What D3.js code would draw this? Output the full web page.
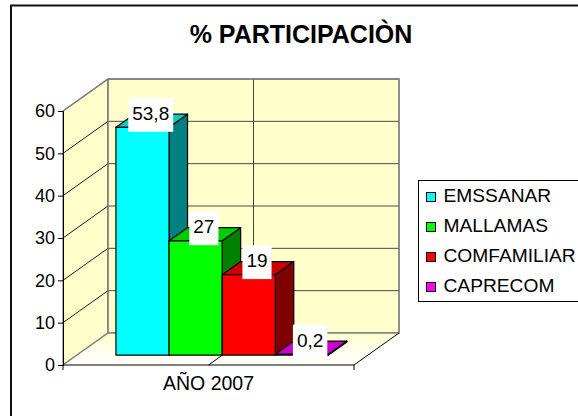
<!DOCTYPE html>
<html>
<head>
<meta charset="utf-8">
<script src="https://cdn.jsdelivr.net/npm/d3@7"></script>
<style>
  body { margin: 0; background: #fff; overflow: hidden; }
  text { font-family: "Liberation Sans", Arial, sans-serif; fill: #000; }
</style>
</head>
<body>
<script>
const categories = ["AÑO 2007"];
const seriesNames = ["EMSSANAR", "MALLAMAS", "COMFAMILIAR", "CAPRECOM"];
const seriesValues = [53.8, 27, 19, 0.2];
const valueLabels = ["53,8", "27", "19", "0,2"];
const yTicks = [0, 10, 20, 30, 40, 50, 60];
const frontColors = ["#00ffff", "#00ff00", "#ff0000", "#ff00ff"];
const topColors = ["#00cccc", "#00cc00", "#cc0000", "#cc00cc"];
const sideColors = ["#008080", "#008000", "#800000", "#800080"];

const width = 578, height = 416;

const svg = d3.select("body").append("svg")
  .attr("width", width)
  .attr("height", height)
  .style("display", "block");

// outer frame, only top and left are inside the picture
svg.append("path")
  .attr("d", d3.line()([[11, height], [11, 5.5], [width, 5.5]]))
  .attr("fill", "none").attr("stroke", "#111").attr("stroke-width", 2);

svg.append("text")
  .attr("x", 301).attr("y", 43)
  .attr("text-anchor", "middle")
  .attr("font-size", 25)
  .attr("font-weight", "bold")
  .text("% PARTICIPACIÒN");

// scales: front plane of the box, depth goes up and to the right
const y = d3.scaleLinear().domain([0, 60]).range([365, 111]);
const x = d3.scaleBand().domain(categories).range([63, 354]);
const inner = d3.scaleBand().domain(seriesNames)
  .range([x(categories[0]) + 39, x(categories[0]) + x.bandwidth() - 39.5]);
const depthX = d3.scaleLinear().domain([0, 1]).range([0, 45]);
const depthY = d3.scaleLinear().domain([0, 1]).range([0, -32]);

// project a point (px on the x axis, value, depth 0..1)
const pt = (px, v, t) => [px + depthX(t), y(v) + depthY(t)];
const poly = pts => d3.line()(pts) + "Z";

const x0 = x.range()[0], x1 = x.range()[1];
const yMax = y.domain()[1];

// walls and floor
svg.append("path")
  .attr("d", poly([pt(x0, 0, 0), pt(x0, yMax, 0), pt(x0, yMax, 1), pt(x0, 0, 1)]))
  .attr("fill", "#ffffcc").attr("stroke", "#808080").attr("stroke-width", 1.3);
svg.append("path")
  .attr("d", poly([pt(x0, 0, 1), pt(x0, yMax, 1), pt(x1, yMax, 1), pt(x1, 0, 1)]))
  .attr("fill", "#ffffcc").attr("stroke", "#808080").attr("stroke-width", 1.3);

const floorGrad = svg.append("defs").append("linearGradient")
  .attr("id", "floorGrad").attr("x1", 0).attr("y1", 0).attr("x2", 0).attr("y2", 1);
floorGrad.append("stop").attr("offset", "0%").attr("stop-color", "#ffffcc");
floorGrad.append("stop").attr("offset", "60%").attr("stop-color", "#fffff0");
floorGrad.append("stop").attr("offset", "100%").attr("stop-color", "#fffff8");
svg.append("path")
  .attr("d", poly([pt(x0, 0, 0), pt(x0, 0, 1), pt(x1, 0, 1), pt(x1, 0, 0)]))
  .attr("fill", "url(#floorGrad)").attr("stroke", "none");

// gridlines, left wall then back wall
const grid = svg.append("g").attr("fill", "none");
yTicks.slice(1).forEach(function(t) {
  if (t < yMax) {
    grid.append("path").attr("d", d3.line()([pt(x0, t, 0), pt(x0, t, 1)]))
      .attr("stroke", "#000").attr("stroke-width", 0.9);
    grid.append("path").attr("d", d3.line()([pt(x0, t, 1), pt(x1, t, 1)]))
      .attr("stroke", "#333").attr("stroke-width", 0.9);
  }
});
const xm = (x0 + x1) / 2;
grid.append("path").attr("d", d3.line()([pt(xm, 0, 1), pt(xm, yMax, 1)]))
  .attr("stroke", "#333").attr("stroke-width", 0.9);

// wall edges over the grid
svg.append("path")
  .attr("d", d3.line()([pt(x0, 0, 0), pt(x0, 0, 1), pt(x1, 0, 1), pt(x1, yMax, 1), pt(x0, yMax, 1), pt(x0, yMax, 0)]))
  .attr("fill", "none").attr("stroke", "#808080").attr("stroke-width", 1.3);
svg.append("path")
  .attr("d", d3.line()([pt(x0, 0, 1), pt(x0, yMax, 1)]))
  .attr("fill", "none").attr("stroke", "#808080").attr("stroke-width", 1.3);

// floor lines
svg.append("path")
  .attr("d", d3.line()([pt(x0, 0, 0), pt(x1, 0, 0), pt(x1, 0, 1)]))
  .attr("fill", "none").attr("stroke", "#000").attr("stroke-width", 1);
svg.append("path")
  .attr("d", d3.line()([pt(xm, 0, 0), pt(xm, 0, 1)]))
  .attr("fill", "none").attr("stroke", "#000").attr("stroke-width", 1);

// axes
const yAxis = d3.axisLeft(y).tickValues(yTicks).tickSize(5).tickPadding(3);
const gy = svg.append("g").attr("transform", "translate(" + x0 + ",0)").call(yAxis);
gy.select(".domain").attr("stroke", "#000");
gy.selectAll("text").attr("font-size", 18).style("font-family", '"Liberation Sans", Arial, sans-serif');

const gx = svg.append("g").attr("transform", "translate(0,365)");
gx.selectAll("line").data([x0, x1]).join("line")
  .attr("x1", d => d).attr("x2", d => d)
  .attr("y1", 0).attr("y2", 5).attr("stroke", "#000");
gx.append("text")
  .attr("x", x(categories[0]) + x.bandwidth() / 2)
  .attr("y", 25)
  .attr("text-anchor", "middle")
  .attr("font-size", 19.5)
  .text(categories[0]);

// bars
const t0 = 0.31, t1 = 0.72;
const bars = svg.append("g").attr("stroke", "#000").attr("stroke-width", 1.2).attr("stroke-linejoin", "round");
seriesNames.forEach(function(name, i) {
  const a = inner(name), b = a + inner.bandwidth(), v = seriesValues[i];
  bars.append("path").attr("fill", sideColors[i])
    .attr("d", poly([pt(b, 0, t0), pt(b, v, t0), pt(b, v, t1), pt(b, 0, t1)]));
  bars.append("path").attr("fill", topColors[i])
    .attr("d", poly([pt(a, v, t0), pt(a, v, t1), pt(b, v, t1), pt(b, v, t0)]));
  bars.append("path").attr("fill", frontColors[i])
    .attr("d", poly([pt(a, 0, t0), pt(a, v, t0), pt(b, v, t0), pt(b, 0, t0)]));
});

// value labels on white boxes
seriesNames.forEach(function(name, i) {
  const a = inner(name), b = a + inner.bandwidth(), v = seriesValues[i];
  const p = pt((a + b) / 2, v, (t0 + t1) / 2);
  const g = svg.append("g");
  const txt = g.append("text")
    .attr("x", p[0] - 1).attr("y", p[1] - 1)
    .attr("text-anchor", "middle")
    .attr("font-size", 19)
    .text(valueLabels[i]);
  const w = txt.node().getComputedTextLength();
  g.insert("rect", "text")
    .attr("x", p[0] - 1 - w / 2 - 4).attr("y", p[1] - 23)
    .attr("width", w + 8).attr("height", 34)
    .attr("fill", "#fff");
});

// legend
const legend = svg.append("g");
legend.append("rect")
  .attr("x", 418.5).attr("y", 180.5)
  .attr("width", 170).attr("height", 121)
  .attr("fill", "#fff").attr("stroke", "#000");
const ly = d3.scalePoint().domain(seriesNames).range([197, 287]);
seriesNames.forEach(function(name, i) {
  legend.append("rect")
    .attr("x", 426.5).attr("y", ly(name) - 4.5)
    .attr("width", 9).attr("height", 9)
    .attr("fill", frontColors[i]).attr("stroke", "#000");
  legend.append("text")
    .attr("x", 443.5).attr("y", ly(name) + 5)
    .attr("font-size", 19.2)
    .text(name);
});
</script>
</body>
</html>
